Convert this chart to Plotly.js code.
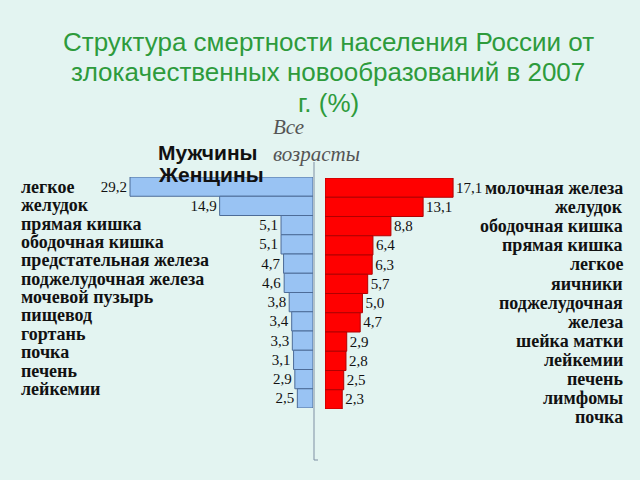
<!DOCTYPE html>
<html><head><meta charset="utf-8">
<script src="https://cdn.plot.ly/plotly-3.0.1.min.js"></script>
<style>html,body{margin:0;padding:0;background:#e3f4f1;}</style>
</head><body>
<div id="chart" style="width:640px;height:480px;"></div>
<script>
var menCats = ["легкое","желудок","прямая кишка","ободочная кишка","предстательная железа","поджелудочная железа","мочевой пузырь","пищевод","гортань","почка","печень","лейкемии"];
var menValues = [29.2,14.9,5.1,5.1,4.7,4.6,3.8,3.4,3.3,3.1,2.9,2.5];
var womenCats = ["молочная железа","желудок","ободочная кишка","прямая кишка","легкое","яичники","поджелудочная железа","шейка матки","лейкемии","печень","лимфомы","почка"];
var womenValues = [17.1,13.1,8.8,6.4,6.3,5.7,5.0,4.7,2.9,2.8,2.5,2.3];
var titleLines = ["Структура смертности населения России от","злокачественных новообразований в 2007","г. (%)"];
var seriesNames = ["Мужчины","Женщины"];
var subtitleLines = ["Все","возрасты"];

function fmt(v){ return v.toFixed(1).replace('.', ','); }
var W = 640, H = 480;
function py(pix){ return 1 - pix / H; }
function px(pix){ return pix / W; }

var serif = "Liberation Serif, Times New Roman, serif";
var sans = "Liberation Sans, Arial, sans-serif";

var traces = [
  {type:'bar', orientation:'h', x: menValues, y: menCats, xaxis:'x', yaxis:'y',
   name: seriesNames[0],
   marker:{color:'#99c3f3', line:{color:'#4d6c98', width:1}},
   text: menValues.map(fmt), textposition:'outside', cliponaxis:false,
   textfont:{family:serif, size:15, color:'#111'}, hoverinfo:'x+y'},
  {type:'bar', orientation:'h', x: womenValues, y: womenCats, xaxis:'x2', yaxis:'y2',
   name: seriesNames[1],
   marker:{color:'#ff0000', line:{color:'#b00000', width:1}},
   text: womenValues.map(fmt), textposition:'outside', cliponaxis:false,
   textfont:{family:serif, size:15, color:'#111'}, hoverinfo:'x+y'}
];

var annotations = [];
titleLines.forEach(function(t, i){
  annotations.push({xref:'paper', yref:'paper', x:px(328), y:py(42 + i*30.5), xanchor:'center', yanchor:'middle',
    text:t, showarrow:false, font:{family:sans, size:26, color:'#2e9b3c'}});
});
menCats.forEach(function(c, i){
  annotations.push({xref:'paper', yref:'paper', x:px(19), y:py(187 + i*18.35), xanchor:'left', yanchor:'middle',
    text:c, showarrow:false, font:{family:serif, size:18, color:'#111', weight:'bold'}});
});
var rightLines = [];
womenCats.forEach(function(c){ if (c === "поджелудочная железа") { rightLines.push("поджелудочная"); rightLines.push("железа"); } else rightLines.push(c); });
rightLines.forEach(function(c, i){
  annotations.push({xref:'paper', yref:'paper', x:px(625), y:py(188 + i*19.1), xanchor:'right', yanchor:'middle',
    text:c, showarrow:false, font:{family:serif, size:18, color:'#111', weight:'bold'}});
});
annotations.push({xref:'paper', yref:'paper', x:px(156), y:py(152), xanchor:'left', yanchor:'middle',
  text:seriesNames[0], showarrow:false, font:{family:sans, size:21, color:'#111', weight:'bold'}});
annotations.push({xref:'paper', yref:'paper', x:px(156), y:py(174), xanchor:'left', yanchor:'middle',
  text:seriesNames[1], showarrow:false, font:{family:sans, size:21, color:'#111', weight:'bold'}});
annotations.push({xref:'paper', yref:'paper', x:px(271), y:py(127), xanchor:'left', yanchor:'middle',
  text:subtitleLines[0], showarrow:false, font:{family:serif, size:21, color:'#555', style:'italic'}});
annotations.push({xref:'paper', yref:'paper', x:px(271), y:py(154), xanchor:'left', yanchor:'middle',
  text:subtitleLines[1], showarrow:false, font:{family:serif, size:21, color:'#555', style:'italic'}});

var layout = {
  width:W, height:H, margin:{l:0,r:0,t:0,b:0},
  paper_bgcolor:'#e3f4f1', plot_bgcolor:'rgba(0,0,0,0)',
  showlegend:false, bargap:0,
  xaxis:{domain:[px(125), px(313)], range:[30,0], showgrid:false, zeroline:false, showticklabels:false, ticks:'', showline:false, fixedrange:true},
  yaxis:{domain:[py(408), py(177)], anchor:'x', type:'category', range:[11.5,-0.5], showgrid:false, zeroline:false, showticklabels:false, ticks:'', showline:false},
  xaxis2:{domain:[px(325), px(325 + 20*7.49)], range:[0,20], anchor:'y2', showgrid:false, zeroline:false, showticklabels:false, ticks:'', showline:false},
  yaxis2:{domain:[py(409), py(178)], anchor:'x2', type:'category', range:[11.5,-0.5], showgrid:false, zeroline:false, showticklabels:false, ticks:'', showline:false},
  shapes:[
    {type:'line', xref:'paper', yref:'paper', x0:px(314), x1:px(314), y0:py(162), y1:py(460), line:{color:'#7f8fa3', width:1}},
    {type:'line', xref:'paper', yref:'paper', x0:px(314), x1:px(318), y0:py(460), y1:py(460), line:{color:'#7f8fa3', width:1}}
  ],
  annotations:annotations
};
Plotly.newPlot('chart', traces, layout, {displayModeBar:false, staticPlot:true});
</script>
</body></html>
